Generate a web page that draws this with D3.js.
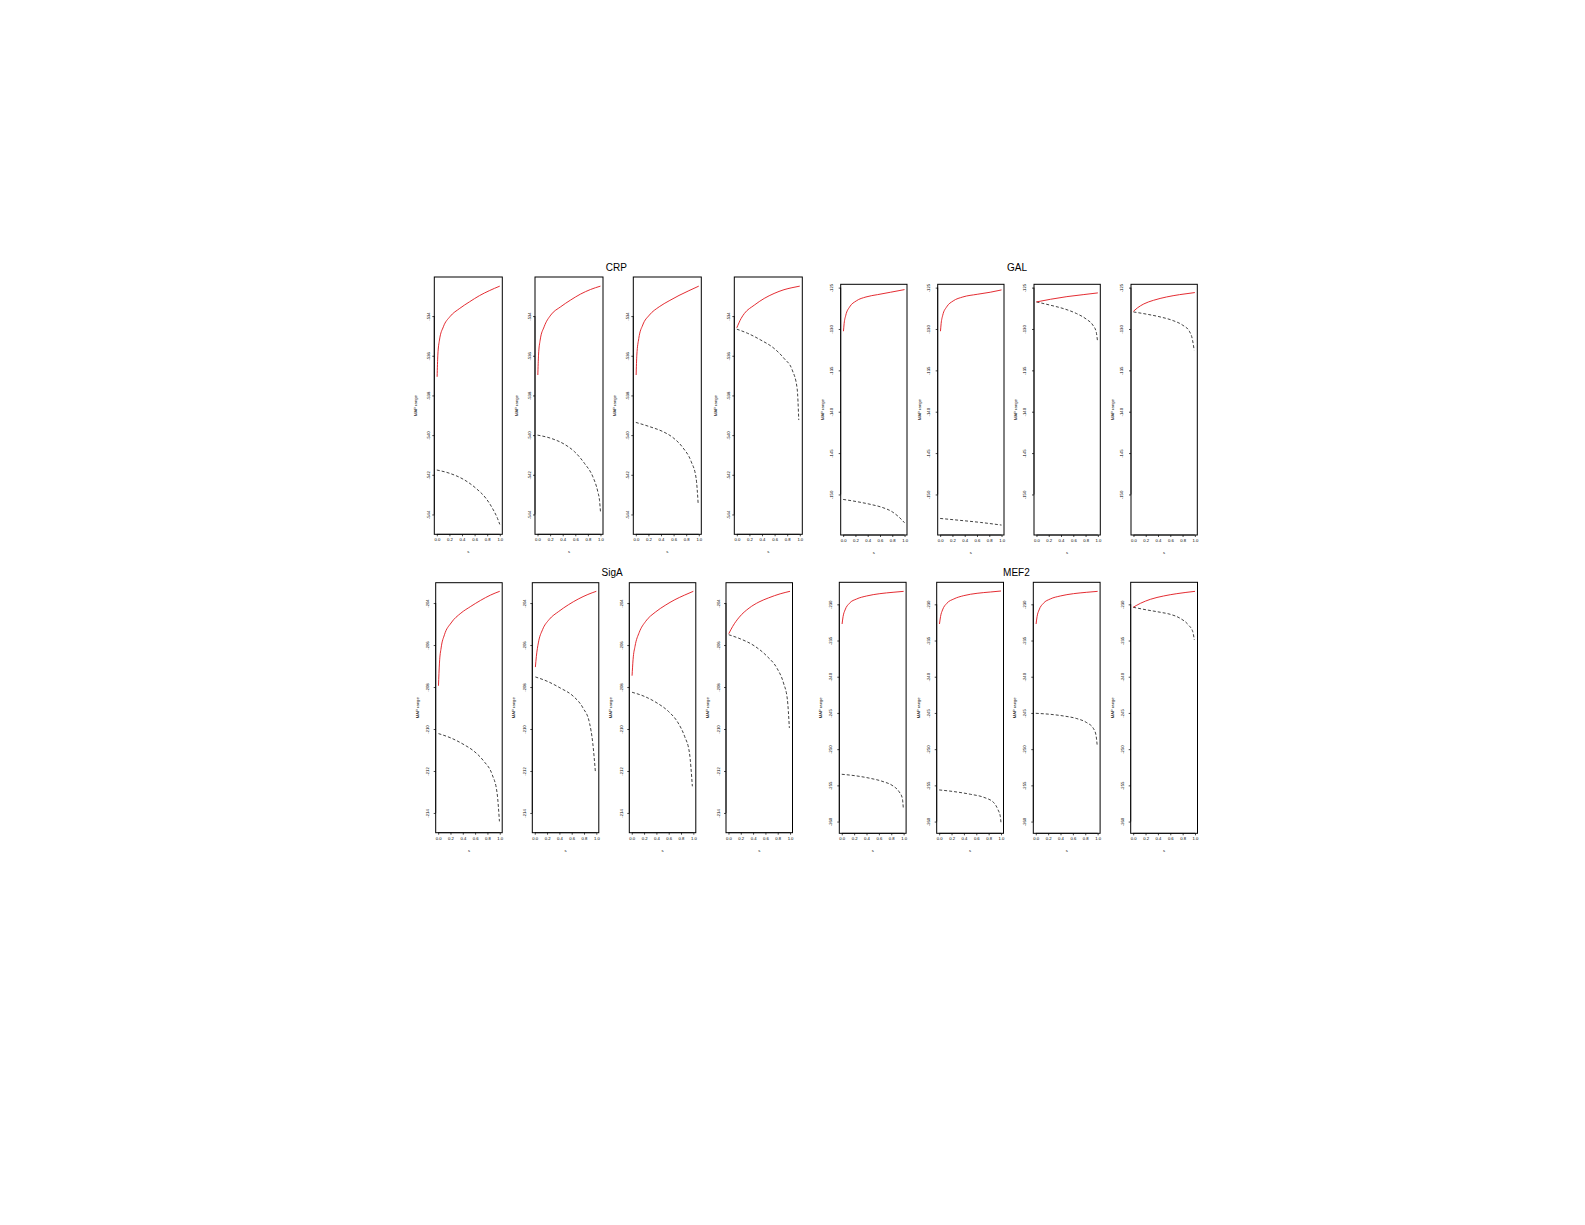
<!DOCTYPE html>
<html>
<head>
<meta charset="utf-8">
<script src="https://cdn.jsdelivr.net/npm/d3@7"></script>
<style>
  html, body { margin: 0; padding: 0; background: #fff; }
  svg { display: block; }
  text { font-family: "Liberation Sans", Arial, Helvetica, sans-serif; }
</style>
</head>
<body>
<svg id="chart" width="1585" height="1225"></svg>
<script>
// ---------------- DATA ----------------
const groupNames = ["CRP", "GAL", "SigA", "MEF2"];
const xTicks = [0, 0.2, 0.4, 0.6, 0.8, 1.0];
const xLabel = "s";
const yLabel = "MAP range";

const yTicksCRP  = [-534, -536, -538, -540, -542, -544];
const yTicksGAL  = [-125, -130, -135, -140, -145, -150];
const yTicksSigA = [-204, -206, -208, -210, -212, -214];
const yTicksMEF2 = [-230, -235, -240, -245, -250, -255, -260];

const yRangeCRP  = [-545.0, -532.03];
const yRangeGAL  = [-154.9, -124.6];
const yRangeSigA = [-214.94, -203.03];
const yRangeMEF2 = [-261.62, -226.96];

// solid red curves, 4 panels per group: [s, MAP]
const crpSolid = [
  [[0.005,-537.06],[0.016,-535.97],[0.042,-535.21],[0.104,-534.54],[0.208,-534.03],[0.365,-533.61],[0.52,-533.28],[0.677,-532.97],[0.833,-532.72],[1.0,-532.49]],
  [[0.005,-536.97],[0.016,-535.97],[0.042,-535.21],[0.105,-534.54],[0.21,-533.95],[0.368,-533.53],[0.526,-533.19],[0.684,-532.89],[0.842,-532.66],[1.0,-532.49]],
  [[0.005,-536.97],[0.016,-535.97],[0.047,-535.13],[0.11,-534.45],[0.215,-533.95],[0.372,-533.53],[0.529,-533.23],[0.686,-532.96],[0.843,-532.72],[1.0,-532.49]],
  [[0.0,-534.59],[0.068,-534.12],[0.12,-533.87],[0.277,-533.45],[0.435,-533.11],[0.592,-532.86],[0.749,-532.67],[0.875,-532.57],[1.0,-532.49]]
];
const crpDashed = [
  [[0.0,-541.76],[0.208,-541.93],[0.417,-542.22],[0.625,-542.69],[0.781,-543.19],[0.885,-543.70],[0.964,-544.20],[1.0,-544.50]],
  [[0.0,-540.0],[0.221,-540.17],[0.432,-540.47],[0.589,-540.84],[0.747,-541.43],[0.879,-542.10],[0.958,-542.86],[0.985,-543.3],[1.0,-543.87]],
  [[0.0,-539.36],[0.225,-539.58],[0.435,-539.83],[0.592,-540.13],[0.749,-540.64],[0.88,-541.34],[0.958,-542.18],[0.99,-543.45]],
  [[0.0,-534.66],[0.173,-534.87],[0.382,-535.21],[0.592,-535.63],[0.749,-536.13],[0.88,-536.72],[0.958,-537.65],[0.984,-539.24]]
];

const galSolid = [
  [[0.005,-130.27],[0.016,-129.35],[0.043,-128.34],[0.106,-127.33],[0.213,-126.61],[0.372,-126.13],[0.559,-125.85],[0.771,-125.56],[1.0,-125.24]],
  [[0.005,-130.27],[0.016,-129.35],[0.042,-128.34],[0.106,-127.33],[0.212,-126.61],[0.37,-126.13],[0.603,-125.81],[0.815,-125.56],[1.0,-125.28]],
  [[0.0,-126.73],[0.229,-126.41],[0.495,-126.09],[0.761,-125.85],[1.0,-125.64]],
  [[0.0,-127.86],[0.063,-127.46],[0.169,-126.97],[0.328,-126.53],[0.54,-126.13],[0.751,-125.85],[1.0,-125.60]]
];
const galDashed = [
  [[0.0,-150.60],[0.239,-150.89],[0.452,-151.21],[0.638,-151.57],[0.798,-152.09],[0.904,-152.70],[1.0,-153.42]],
  [[0.0,-152.90],[0.339,-153.14],[0.656,-153.38],[1.0,-153.70]],
  [[0.0,-126.73],[0.229,-127.13],[0.441,-127.54],[0.654,-128.14],[0.814,-128.82],[0.92,-129.55],[0.973,-130.35],[0.995,-131.48]],
  [[0.0,-127.94],[0.222,-128.22],[0.434,-128.54],[0.646,-128.99],[0.804,-129.55],[0.91,-130.27],[0.963,-131.36],[0.989,-132.57]]
];

const sigaSolid = [
  [[0.005,-207.94],[0.021,-206.86],[0.048,-206.14],[0.102,-205.51],[0.209,-204.95],[0.369,-204.48],[0.529,-204.16],[0.69,-203.87],[0.85,-203.62],[1.0,-203.44]],
  [[0.01,-207.05],[0.026,-206.54],[0.058,-205.90],[0.126,-205.27],[0.232,-204.79],[0.389,-204.40],[0.547,-204.08],[0.705,-203.81],[0.863,-203.59],[1.0,-203.44]],
  [[0.005,-207.46],[0.021,-206.70],[0.053,-206.06],[0.121,-205.40],[0.226,-204.87],[0.384,-204.43],[0.542,-204.11],[0.7,-203.84],[0.858,-203.62],[1.0,-203.44]],
  [[0.005,-205.46],[0.069,-205.11],[0.176,-204.67],[0.335,-204.24],[0.495,-203.95],[0.654,-203.75],[0.84,-203.56],[1.0,-203.44]]
];
const sigaDashed = [
  [[0.005,-210.22],[0.209,-210.43],[0.422,-210.75],[0.583,-211.06],[0.743,-211.54],[0.877,-212.17],[0.957,-213.05],[0.995,-214.40]],
  [[0.01,-207.52],[0.205,-207.73],[0.416,-208.05],[0.626,-208.44],[0.784,-209.00],[0.889,-209.71],[0.942,-210.67],[0.984,-212.02]],
  [[0.005,-208.25],[0.2,-208.44],[0.41,-208.76],[0.595,-209.16],[0.753,-209.71],[0.858,-210.35],[0.937,-211.14],[0.984,-212.73]],
  [[0.005,-205.51],[0.197,-205.71],[0.415,-206.03],[0.628,-206.54],[0.787,-207.10],[0.894,-207.81],[0.957,-208.60],[0.989,-209.95]]
];

const mef2Solid = [
  [[0.005,-232.72],[0.021,-231.70],[0.053,-230.78],[0.123,-229.86],[0.241,-229.26],[0.401,-228.85],[0.615,-228.53],[0.829,-228.34],[1.0,-228.21]],
  [[0.005,-232.72],[0.022,-231.70],[0.054,-230.78],[0.124,-229.86],[0.237,-229.26],[0.398,-228.80],[0.613,-228.48],[0.828,-228.30],[1.0,-228.16]],
  [[0.005,-232.72],[0.021,-231.70],[0.053,-230.78],[0.123,-229.86],[0.235,-229.26],[0.396,-228.85],[0.61,-228.53],[0.824,-228.34],[1.0,-228.21]],
  [[0.0,-230.41],[0.118,-229.86],[0.278,-229.31],[0.492,-228.85],[0.706,-228.53],[1.0,-228.21]]
];
const mef2Dashed = [
  [[0.0,-253.47],[0.241,-253.70],[0.455,-254.02],[0.668,-254.48],[0.829,-255.08],[0.925,-255.86],[0.979,-256.78],[0.995,-258.16]],
  [[0.0,-255.63],[0.237,-255.86],[0.505,-256.23],[0.72,-256.65],[0.882,-257.38],[0.952,-258.39],[0.989,-259.31],[1.0,-260.23]],
  [[0.0,-245.05],[0.235,-245.19],[0.449,-245.42],[0.663,-245.78],[0.824,-246.34],[0.93,-247.12],[0.973,-248.04],[0.995,-249.65]],
  [[0.0,-230.41],[0.225,-230.78],[0.439,-231.10],[0.599,-231.38],[0.759,-231.93],[0.893,-232.85],[0.963,-233.77],[0.989,-234.92]]
];

// ---------------- LAYOUT ----------------
const groups = [
  { name: groupNames[0], ticks: yTicksCRP,  range: yRangeCRP,  solid: crpSolid,  dashed: crpDashed,
    lefts: [434.3, 535.0, 633.3, 734.3], width: 68, top: 277, bottom: 534.3, titleY: 270.5, labOff: 4.5 },
  { name: groupNames[1], ticks: yTicksGAL,  range: yRangeGAL,  solid: galSolid,  dashed: galDashed,
    lefts: [840.7, 937.7, 1034.0, 1131.0], width: 66.3, top: 284.3, bottom: 535, titleY: 270.5, labOff: 8 },
  { name: groupNames[2], ticks: yTicksSigA, range: yRangeSigA, solid: sigaSolid, dashed: sigaDashed,
    lefts: [435.7, 532.3, 629.3, 726.0], width: 66.5, top: 582.7, bottom: 832.7, titleY: 576, labOff: 6.5 },
  { name: groupNames[3], ticks: yTicksMEF2, range: yRangeMEF2, solid: mef2Solid, dashed: mef2Dashed,
    lefts: [839.3, 936.7, 1033.3, 1130.7], width: 66.8, top: 582.3, bottom: 833.3, titleY: 576, labOff: 7 }
];

const svg = d3.select("#chart");
svg.append("rect").attr("width", 1585).attr("height", 1225).attr("fill", "#fff");

const tickFont = 4.2;

groups.forEach(g => {
  const gx0 = g.lefts[0], gx1 = g.lefts[3] + g.width;
  svg.append("text")
    .attr("x", (gx0 + gx1) / 2 - 2)
    .attr("y", g.titleY)
    .attr("text-anchor", "middle")
    .attr("font-size", 10)
    .attr("fill", "#000")
    .text(g.name);

  g.lefts.forEach((left, i) => {
    const x = d3.scaleLinear().domain([-0.04, 1.04]).range([left, left + g.width]);
    const y = d3.scaleLinear().domain(g.range).range([g.bottom, g.top]);
    const panel = svg.append("g");

    // x axis
    const xa = panel.append("g")
      .attr("transform", `translate(0,${g.bottom})`)
      .call(d3.axisBottom(x).tickValues(xTicks).tickSize(2).tickSizeOuter(0).tickPadding(2)
        .tickFormat(d3.format(".1f")));
    xa.select(".domain").attr("d", `M${x(0)},0H${x(1)}`).attr("stroke-width", 0.7);
    xa.selectAll(".tick line").attr("stroke-width", 0.7);
    xa.selectAll("text").attr("font-size", tickFont).attr("fill", "#000")
      .attr("font-family", "'Liberation Sans', Arial, sans-serif");

    // y axis
    const ya = panel.append("g")
      .attr("transform", `translate(${left},0)`)
      .call(d3.axisLeft(y).tickValues(g.ticks).tickSize(2).tickSizeOuter(0)
        .tickFormat(d => String(d)));
    const t0 = y(g.ticks[0]), t1 = y(g.ticks[g.ticks.length - 1]);
    ya.select(".domain").attr("d", `M0,${t0}V${t1}`).attr("stroke-width", 0.7);
    ya.selectAll(".tick line").attr("stroke-width", 0.7);
    ya.selectAll("text")
      .attr("x", null).attr("dy", null)
      .attr("text-anchor", "middle")
      .attr("transform", `translate(${-g.labOff},0) rotate(-90)`)
      .attr("font-size", tickFont).attr("fill", "#000")
      .attr("font-family", "'Liberation Sans', Arial, sans-serif");

    // axis titles
    panel.append("text")
      .attr("transform", `translate(${left - 17},${(g.top + g.bottom) / 2}) rotate(-90)`)
      .attr("text-anchor", "middle")
      .attr("font-size", tickFont).attr("fill", "#000")
      .text(yLabel);
    panel.append("text")
      .attr("x", (left + left + g.width) / 2)
      .attr("y", g.bottom + 19)
      .attr("text-anchor", "middle")
      .attr("font-size", tickFont).attr("fill", "#000")
      .text(xLabel);

    // curves
    const line = d3.line()
      .x(d => x(d[0]))
      .y(d => y(d[1]))
      .curve(d3.curveMonotoneX);

    panel.append("path")
      .datum(g.dashed[i])
      .attr("d", line)
      .attr("fill", "none")
      .attr("stroke", "#111")
      .attr("stroke-width", 0.8)
      .attr("stroke-dasharray", "3,2");

    panel.append("path")
      .datum(g.solid[i])
      .attr("d", line)
      .attr("fill", "none")
      .attr("stroke", "#e0141b")
      .attr("stroke-width", 0.9);

    // box
    panel.append("rect")
      .attr("x", left).attr("y", g.top)
      .attr("width", g.width).attr("height", g.bottom - g.top)
      .attr("fill", "none")
      .attr("stroke", "#000")
      .attr("stroke-width", 1);
  });
});
</script>
</body>
</html>
